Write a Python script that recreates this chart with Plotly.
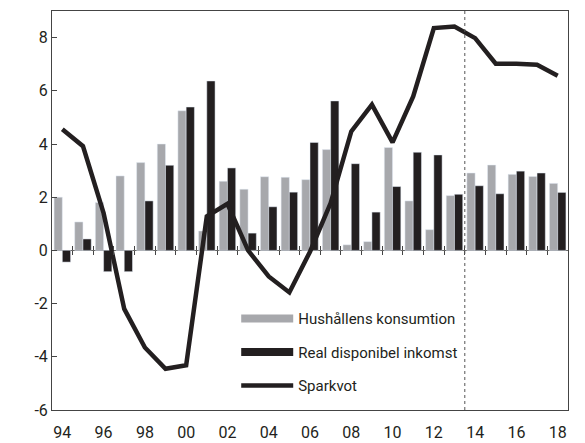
import plotly.graph_objects as go

years = list(range(1994, 2019))
konsumtion = [2.0, 1.07, 1.8, 2.8, 3.3, 4.0, 5.25, 0.73, 2.6, 2.3, 2.77, 2.75, 2.66,
              3.79, 0.21, 0.33, 3.87, 1.86, 0.78, 2.06, 2.91, 3.21, 2.86, 2.78, 2.52]
inkomst = [-0.44, 0.43, -0.8, -0.8, 1.86, 3.2, 5.39, 6.37, 3.1, 0.65, 1.64, 2.19, 4.06,
           5.62, 3.26, 1.44, 2.4, 3.69, 3.59, 2.11, 2.43, 2.13, 2.98, 2.91, 2.18]
sparkvot = [4.55, 3.92, 1.4, -2.2, -3.65, -4.45, -4.32, 1.28, 1.75, 0.0, -0.98, -1.58, -0.05,
            1.78, 4.47, 5.48, 4.06, 5.79, 8.36, 8.42, 7.98, 7.02, 7.02, 6.98, 6.57]
tick_years = list(range(1994, 2019, 2))
tick_labels = [f"{y % 100:02d}" for y in tick_years]
y_ticks = [-6, -4, -2, 0, 2, 4, 6, 8]
y_tick_labels = [str(v) for v in y_ticks]
boundaries = [y + 0.5 for y in range(1994, 2018)]
forecast_start = 2013.5

GREY = "#a7a8ac"
BLACK = "#231f20"
AXIS = "#444444"
FONT = "Roboto, Liberation Sans, sans-serif"

fig = go.Figure()
fig.add_trace(go.Bar(x=years, y=konsumtion, marker_color=GREY, showlegend=False,
                     name="Hushållens konsumtion"))
fig.add_trace(go.Bar(x=years, y=inkomst, marker_color=BLACK, showlegend=False,
                     name="Real disponibel inkomst"))
fig.add_trace(go.Scatter(x=years, y=sparkvot, mode="lines", showlegend=False,
                         line=dict(color=BLACK, width=4.5), name="Sparkvot"))
# legend entries
fig.add_trace(go.Scatter(x=[None], y=[None], mode="lines", name="Hushållens konsumtion",
                         line=dict(color=GREY, width=8), legendgroup="a"))
fig.add_trace(go.Scatter(x=[None], y=[None], mode="lines", name="Real disponibel inkomst",
                         line=dict(color=BLACK, width=8), legendgroup="b"))
fig.add_trace(go.Scatter(x=[None], y=[None], mode="lines", name="Sparkvot",
                         line=dict(color=BLACK, width=4.5), legendgroup="c"))
# helper traces for zero-line tick axes
fig.add_trace(go.Scatter(x=[2000], y=[0], xaxis="x2", mode="markers", opacity=0,
                         showlegend=False, hoverinfo="skip"))
fig.add_trace(go.Scatter(x=[2000], y=[0], xaxis="x3", mode="markers", opacity=0,
                         showlegend=False, hoverinfo="skip"))

fig.add_vline(x=forecast_start, line=dict(color="#555555", width=1, dash="dot"))

zero_pos = 6 / 15
common_tick = dict(range=[1993.5, 2018.5], overlaying="x", anchor="free", position=zero_pos,
                   tickvals=boundaries, showticklabels=False, showgrid=False, zeroline=False,
                   showline=False, ticklen=4, tickcolor=AXIS, tickwidth=1, layer="above traces",
                   automargin=False)

# page body adds an 8px margin; figure size / margins compensate for it
fig.update_layout(
    width=577, height=435,
    margin=dict(l=44, r=17, t=3, b=33),
    paper_bgcolor="white", plot_bgcolor="white",
    barmode="group", bargap=0.2, bargroupgap=0,
    font=dict(family=FONT, size=15, color="#231f20"),
    xaxis=dict(range=[1993.5, 2018.5], tickvals=tick_years, ticktext=tick_labels,
               ticks="outside", ticklen=8, tickcolor="rgba(0,0,0,0)", automargin=False,
               showgrid=False, zeroline=False, showline=True, mirror=True,
               linecolor=AXIS, linewidth=1, tickfont=dict(size=16)),
    xaxis2=dict(ticks="outside", **common_tick),
    xaxis3=dict(ticks="inside", **common_tick),
    yaxis=dict(range=[-6, 9], tickvals=y_ticks, ticktext=y_tick_labels, ticks="inside",
               ticklen=5, tickcolor=AXIS, showgrid=False, zeroline=True, automargin=False,
               zerolinecolor="#666666", zerolinewidth=1, showline=True, mirror=True,
               linecolor=AXIS, linewidth=1, tickfont=dict(size=16)),
    legend=dict(x=0.357, y=0.27, xanchor="left", yanchor="top", bgcolor="rgba(0,0,0,0)",
                traceorder="grouped", tracegroupgap=11, itemwidth=52, font=dict(size=15)),
)

fig.write_html("out.html")
